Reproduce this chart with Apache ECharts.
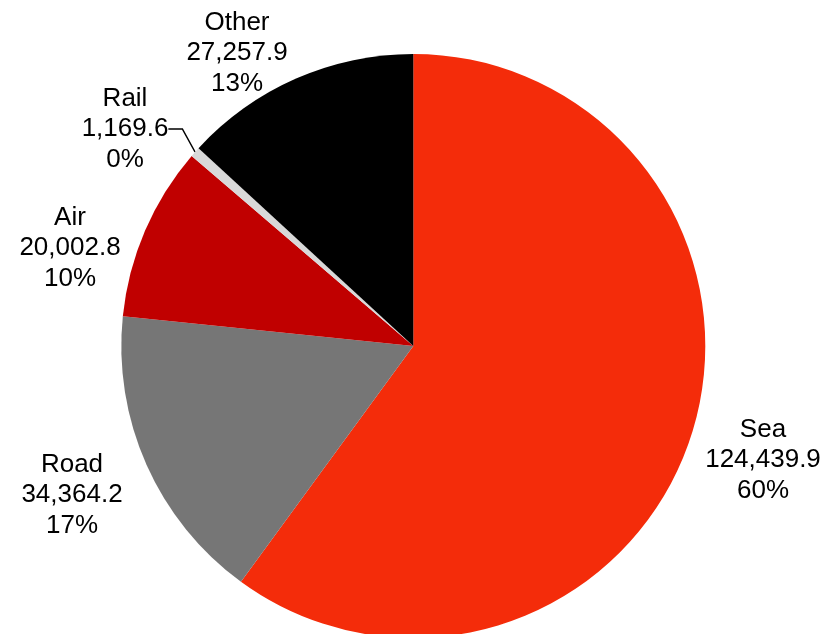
<!DOCTYPE html>
<html>
<head>
<meta charset="utf-8">
<script src="https://cdn.jsdelivr.net/npm/echarts@6/dist/echarts.min.js"></script>
<style>
html,body{margin:0;padding:0;background:#fff;}
#chart{width:827px;height:634px;}
</style>
</head>
<body>
<div id="chart"></div>
<script>
// Data
const categories = ['Sea', 'Road', 'Air', 'Rail', 'Other'];
const values = [124439.9, 34364.2, 20002.8, 1169.6, 27257.9];
const percentLabels = ['60%', '17%', '10%', '0%', '13%'];

// Styling / layout (kept separate from data)
const colors = ['#F42C0A', '#767676', '#C00000', '#D9D9D9', '#000000'];
const labelCenters = [[763, 460], [72, 495], [70, 248], [125, 129], [237, 53]];
const showLeader = [false, false, false, true, false];

const chart = echarts.init(document.getElementById('chart'), null, {renderer: 'canvas'});
const fmt = v => v.toLocaleString('en-US', {minimumFractionDigits: 1, maximumFractionDigits: 1});

chart.setOption({
  animation: false,
  backgroundColor: '#ffffff',
  series: [{
    type: 'pie',
    center: [413.3, 346],
    radius: 292,
    startAngle: 90,
    clockwise: true,
    avoidLabelOverlap: false,
    itemStyle: {borderWidth: 0},
    label: {
      show: true,
      position: 'outside',
      fontFamily: 'Liberation Sans, Arial, sans-serif',
      fontSize: 26,
      lineHeight: 30.5,
      color: '#000',
      align: 'center',
      formatter: p => p.name + '\n' + fmt(p.value) + '\n' + percentLabels[p.dataIndex]
    },
    labelLine: {show: false, lineStyle: {color: '#000', width: 1.5}},
    labelLayout: function (params) {
      const c = labelCenters[params.dataIndex];
      return {x: c[0], y: c[1], align: 'center', verticalAlign: 'middle'};
    },
    data: categories.map((name, i) => ({
      name: name,
      value: values[i],
      itemStyle: {color: colors[i]},
      labelLine: {show: showLeader[i], length: 18, length2: 14}
    }))
  }]
});
</script>
</body>
</html>
